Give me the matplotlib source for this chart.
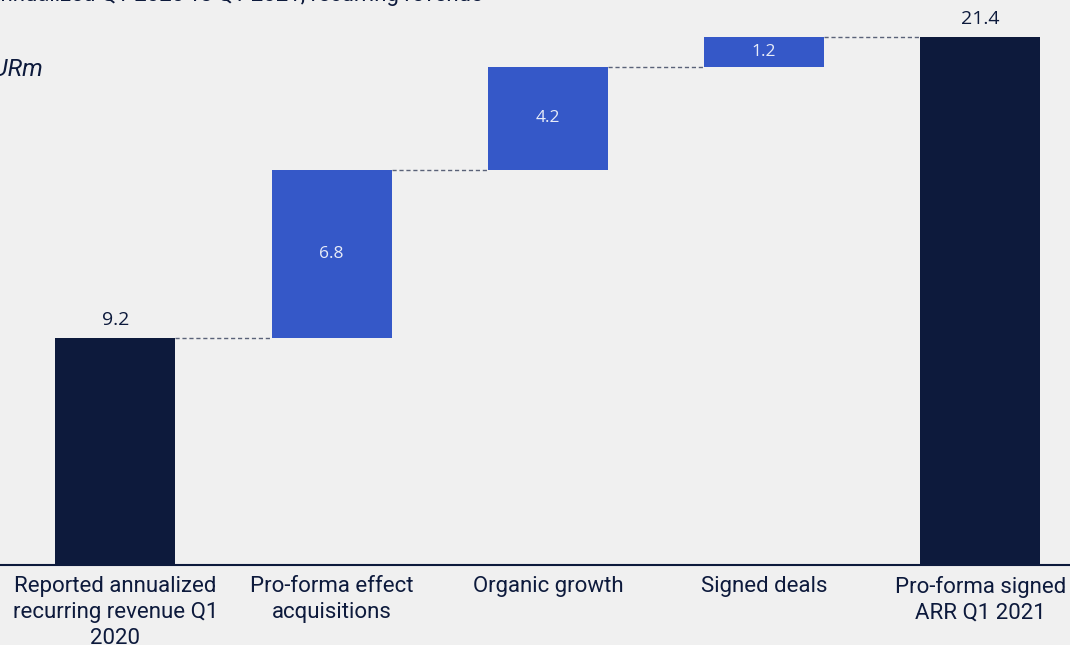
import numpy as np
import matplotlib.pyplot as plt

# Bridge from Q1 2020 to Q1 2021 ARR (EURm)
categories = ['Reported annualized\nrecurring revenue Q1\n2020',
              'Pro-forma effect\nacquisitions',
              'Organic growth',
              'Signed deals',
              'Pro-forma signed\nARR Q1 2021']
values = [9.2, 6.8, 4.2, 1.2, 21.4]
is_total = [True, False, False, False, True]

navy = '#0d1a3c'
blue = '#3558c8'
bg = '#f0f0f0'

plt.rcParams['font.family'] = ['Roboto', 'DejaVu Sans']

fig = plt.figure(figsize=(10.7, 6.45), dpi=100, facecolor=bg)
ax = fig.add_axes([0, 0.124, 1, 0.876])
ax.set_facecolor(bg)

x = np.arange(len(values))
bottoms = []
running = 0.0
for v, tot in zip(values, is_total):
    if tot:
        bottoms.append(0.0)
        running = v
    else:
        bottoms.append(running)
        running += v
tops = [b + v for b, v in zip(bottoms, values)]

width = 0.555
colors = [navy if t else blue for t in is_total]
ax.bar(x, values, bottom=bottoms, width=width, color=colors, zorder=2)

# connectors
for i in range(len(values) - 1):
    ax.plot([x[i] + width / 2, x[i + 1] - width / 2], [tops[i], tops[i]],
            ls=(0, (3, 2)), color='#5a6278', lw=1, zorder=1)

for i, (v, tot) in enumerate(zip(values, is_total)):
    if tot:
        ax.text(x[i], tops[i] + 0.35, f'{v:.1f}', ha='center', va='bottom',
                fontsize=14, color=navy, family=['Open Sans', 'DejaVu Sans'])
    else:
        ax.text(x[i], bottoms[i] + v / 2, f'{v:.1f}', ha='center', va='center',
                fontsize=12.5, color='#e8ecf8', family=['Open Sans', 'DejaVu Sans'])

ax.set_xlim(-0.534, 4.415)
ax.set_ylim(0, 22.9)
ax.set_yticks([])
ax.set_xticks(x)
ax.set_xticklabels(categories, fontsize=16, color=navy, linespacing=1.3)
ax.tick_params(axis='x', length=0, pad=8)
for s in ['top', 'right', 'left']:
    ax.spines[s].set_visible(False)
ax.spines['bottom'].set_color(navy)
ax.spines['bottom'].set_linewidth(1.5)

# header texts, cropped at the picture edge as in the source
fig.text(-0.013, 1.007, 'Annualized Q1 2020 vs Q1 2021, recurring revenue',
         fontsize=16, color=navy, va='center')
fig.text(-0.019, 0.893, 'EURm', fontsize=17.5, style='italic', color=navy,
         va='center')

fig.savefig('out.png', dpi=100, facecolor=bg)
